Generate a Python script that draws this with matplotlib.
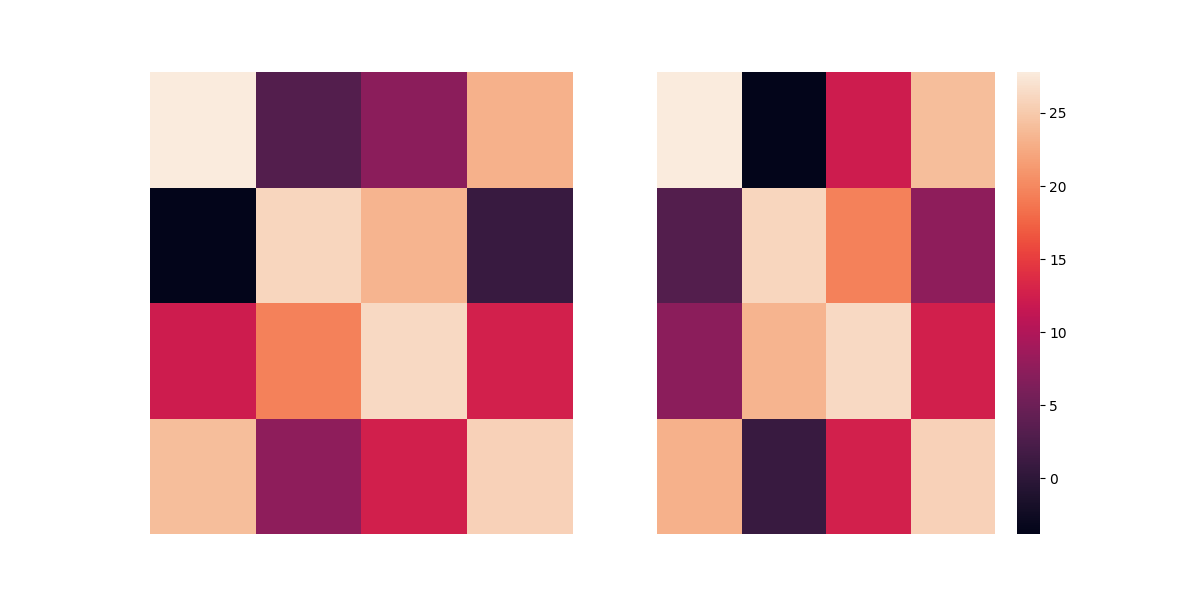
import numpy as np
import matplotlib
matplotlib.use("Agg")
import matplotlib.pyplot as plt
import seaborn as sns

# values (the right one is its transpose)
row0 = [27.8, 3.0, 7.2, 23.0]
row1 = [-3.8, 26.0, 23.3, 1.0]
row2 = [12.2, 19.5, 26.3, 12.7]
row3 = [24.0, 7.5, 12.6, 25.6]

data = np.array([row0, row1, row2, row3])

fig, (ax1, ax2) = plt.subplots(1, 2, figsize=(12, 6))

sns.heatmap(data, ax=ax1, cbar=False, xticklabels=False, yticklabels=False)
sns.heatmap(data.T, ax=ax2, xticklabels=False, yticklabels=False)

ax1.tick_params(left=False, bottom=False)
ax2.tick_params(left=False, bottom=False)

plt.savefig("out.png", dpi=100)
